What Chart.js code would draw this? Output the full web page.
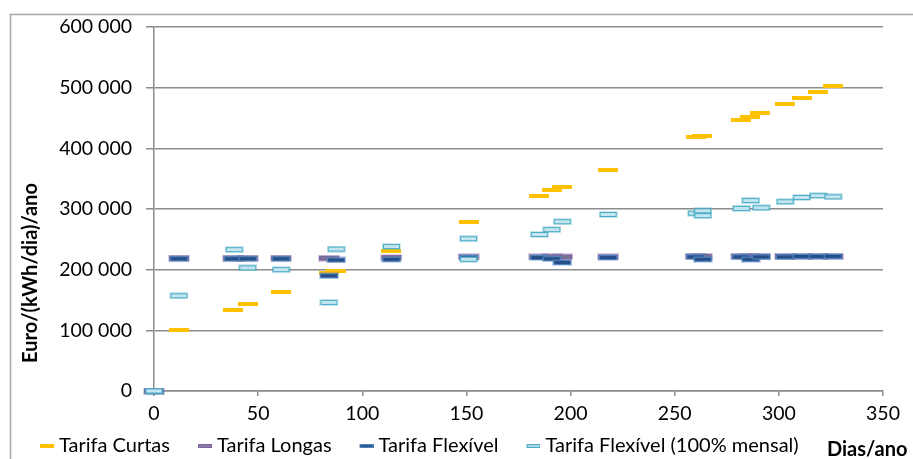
<!DOCTYPE html>
<html>
<head>
<meta charset="utf-8">
<script src="https://cdn.jsdelivr.net/npm/chart.js@4.4.1/dist/chart.umd.min.js"></script>
<style>
    html, body { margin: 0; padding: 0; background: #fff; }
    #chartWrap { width: 913px; height: 459px; }
</style>
</head>
<body>
<div id="chartWrap"><canvas id="tarifasChart"></canvas></div>
<script>
// Dias/ano (x) and Euro/(kWh/dia)/ano (y) for each tariff
let curtasDias    = [0, 12, 38, 45, 61, 84, 87.5, 114, 151, 185, 191, 196, 218, 260, 263, 282, 286, 291, 303, 311, 319, 326];
let curtasValores = [0, 101000, 134000, 144000, 164000, 195000, 197000, 231000, 279000, 322000, 331000, 336000, 364000, 418000, 421000, 446000, 451000, 458000, 473000, 483000, 493000, 502000];

let longasDias    = [0, 12, 38, 45, 61, 84, 114, 151, 185, 191, 196, 218, 260, 263, 282, 286, 291, 303, 311, 319, 326];
let longasValores = [0, 219000, 219000, 219000, 219000, 219000, 220000, 221000, 221000, 221000, 221000, 221000, 222000, 222000, 222000, 222000, 222000, 222000, 222000, 222000, 222000];

let flexDias    = [0, 12, 38, 45, 61, 84, 87.5, 114, 151, 185, 191, 196, 218, 260, 263.5, 282, 286.5, 291.5, 303, 311, 319, 326];
let flexValores = [0, 218000, 218000, 218000, 218000, 190000, 216000, 217000, 220000, 220000, 218000, 212000, 220000, 221000, 217000, 221000, 217000, 221000, 221000, 222000, 222000, 222000];

let mensalDias    = [0, 12, 38.5, 45, 61, 84, 87.5, 114, 151, 151, 185, 191, 196, 218, 260.5, 263.5, 263.5, 282, 286.5, 291.5, 303, 311, 319, 326];
let mensalValores = [0, 157000, 233000, 203000, 200000, 146000, 234000, 238000, 251000, 217000, 258000, 266000, 279000, 291000, 293000, 297000, 289000, 301000, 314000, 302000, 312000, 319000, 322000, 320000];

let seriesNames = ['Tarifa Curtas', 'Tarifa Longas', 'Tarifa Flexível', 'Tarifa Flexível (100% mensal)'];

let xTicks = [0, 50, 100, 150, 200, 250, 300, 350];
let yMax = 600000;

function toPoints(dias, valores){
    return dias.map(function(d, i){ return { x: d, y: valores[i] }; });
}

// small canvas used as a flat dash marker; "lead" leaves blank room on the left
function makeDash(w, h, fill, border, halo, lead){
    let pad = halo ? 1 : 0;
    lead = lead || 0;
    let c = document.createElement('canvas');
    c.width = lead + w + pad * 2;
    c.height = h + pad * 2;
    let g = c.getContext('2d');
    if(halo){
        g.fillStyle = halo;
        g.fillRect(lead, 0, w + pad * 2, c.height);
    }
    if(border){
        g.fillStyle = border;
        g.fillRect(lead + pad, pad, w, h);
        g.fillStyle = fill;
        g.fillRect(lead + pad + 1, pad + 1, w - 2, h - 2);
    } else {
        g.fillStyle = fill;
        g.fillRect(lead + pad, pad, w, h);
    }
    return c;
}

let markers = [
    makeDash(20, 4, '#FFC000'),
    makeDash(20, 5, '#7a7290', '#8064A2', 'rgba(128,100,162,0.3)'),
    makeDash(18, 5, '#254f86', '#4F81BD', 'rgba(79,129,189,0.3)'),
    makeDash(17, 5, '#c5e6ef', '#4BACC6', 'rgba(75,172,198,0.3)')
];
let legendMarkers = [
    makeDash(14, 4, '#FFC000', null, null, 21),
    makeDash(14, 4, '#8a7aa6', '#8064A2', null, 21),
    makeDash(14, 4, '#2c5a92', '#4F81BD', null, 21),
    makeDash(14, 4, '#a9d8e6', '#4BACC6', null, 21)
];

let fontFamily = 'Lato, "Liberation Sans", sans-serif';
let gridGray = '#8c8c8c';

// outer frame plus both axis titles
const chartFrame = {
    id: 'chartFrame',
    beforeDraw(chart){
        let ctx = chart.ctx;
        ctx.save();
        ctx.strokeStyle = '#a6a6a6';
        ctx.lineWidth = 1.5;
        ctx.beginPath();
        ctx.moveTo(10.5, 459);
        ctx.lineTo(10.5, 14.5);
        ctx.lineTo(913, 14.5);
        ctx.stroke();
        ctx.restore();
    },
    afterDraw(chart){
        let ctx = chart.ctx;
        ctx.save();
        ctx.fillStyle = '#000';
        ctx.font = 'bold 20px ' + fontFamily;
        ctx.textBaseline = 'middle';
        ctx.textAlign = 'left';
        ctx.fillText('Dias/ano', 827, 450);
        ctx.translate(31, 273);
        ctx.rotate(-Math.PI / 2);
        ctx.textAlign = 'center';
        ctx.fillText('Euro/(kWh/dia)/ano', 0, 0);
        ctx.restore();
    }
};

let sets = [
    [curtasDias, curtasValores],
    [longasDias, longasValores],
    [flexDias, flexValores],
    [mensalDias, mensalValores]
];

let datasets = sets.map(function(s, i){
    return {
        label: seriesNames[i],
        data: toPoints(s[0], s[1]),
        pointStyle: markers[i],
        pointRadius: 8,
        showLine: false,
        clip: false,
        order: 4 - i
    };
});

let ctx = document.getElementById('tarifasChart').getContext('2d');
let tarifasChart = new Chart(ctx, {
    type: 'scatter',
    data: { datasets: datasets },
    options: {
        responsive: true,
        maintainAspectRatio: false,
        animation: false,
        layout: {
            padding: { left: 12, top: 27, right: 30, bottom: 0 }
        },
        plugins: {
            legend: {
                position: 'bottom',
                align: 'start',
                maxHeight: 35,
                labels: {
                    usePointStyle: true,
                    pointStyleWidth: 25,
                    padding: 12,
                    color: '#000',
                    font: { family: fontFamily, size: 20 },
                    generateLabels(chart){
                        return chart.data.datasets.map(function(ds, i){
                            return {
                                text: ds.label,
                                pointStyle: legendMarkers[i],
                                fillStyle: 'transparent',
                                strokeStyle: 'transparent',
                                lineWidth: 0,
                                fontColor: '#000',
                                datasetIndex: i
                            };
                        });
                    }
                }
            },
            tooltip: { enabled: false }
        },
        scales: {
            x: {
                type: 'linear',
                min: 0,
                max: 350,
                afterBuildTicks(scale){
                    scale.ticks = xTicks.map(function(v){ return { value: v }; });
                },
                afterFit(scale){
                    scale.height = 33;
                },
                border: { display: true, color: gridGray, width: 1.5 },
                grid: {
                    drawOnChartArea: false,
                    drawTicks: true,
                    tickLength: 5,
                    tickColor: gridGray,
                    lineWidth: 1.5
                },
                ticks: {
                    color: '#000',
                    padding: 6,
                    maxRotation: 0,
                    font: { family: fontFamily, size: 19.5 }
                }
            },
            y: {
                min: 0,
                max: yMax,
                afterFit(scale){
                    scale.width = 142;
                },
                border: { display: true, color: gridGray, width: 1.5 },
                grid: {
                    color: gridGray,
                    lineWidth: 1.5,
                    drawTicks: true,
                    tickLength: 8,
                    tickColor: gridGray
                },
                ticks: {
                    stepSize: 100000,
                    color: '#000',
                    padding: 14,
                    font: { family: fontFamily, size: 19.5 },
                    callback(value){
                        return String(value).replace(/\B(?=(\d{3})+(?!\d))/g, ' ');
                    }
                }
            }
        }
    },
    plugins: [chartFrame]
});
</script>
</body>
</html>
